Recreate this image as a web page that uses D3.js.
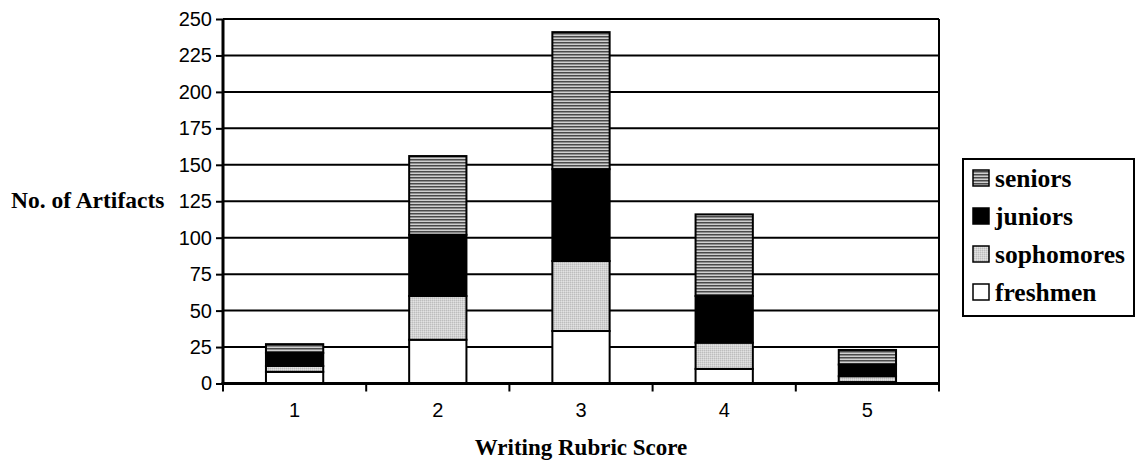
<!DOCTYPE html>
<html>
<head>
<meta charset="utf-8">
<script src="https://cdn.jsdelivr.net/npm/d3@7"></script>
<style>
  html, body { margin: 0; padding: 0; background: #fff; }
  svg { display: block; }
</style>
</head>
<body>
<svg id="chart" width="1135" height="460"></svg>
<script>
const categories = ["1", "2", "3", "4", "5"];
const seriesNames = ["freshmen", "sophomores", "juniors", "seniors"];
const freshmen   = [8, 30, 36, 10, 1];
const sophomores = [4, 30, 48, 18, 4];
const juniors    = [9, 42, 63, 32, 8];
const seniors    = [6, 54, 94, 56, 10];
const yTicks = [0, 25, 50, 75, 100, 125, 150, 175, 200, 225, 250];
const legendOrder = ["seniors", "juniors", "sophomores", "freshmen"];

const seriesValues = { freshmen, sophomores, juniors, seniors };
const rows = categories.map((c, i) => {
  const r = { cat: c };
  seriesNames.forEach(s => r[s] = seriesValues[s][i]);
  return r;
});

const svg = d3.select("#chart");
const defs = svg.append("defs");

// seniors: horizontal stripes
const pS = defs.append("pattern").attr("id", "pat-seniors")
  .attr("patternUnits", "userSpaceOnUse").attr("width", 6).attr("height", 3);
pS.append("rect").attr("width", 6).attr("height", 3).attr("fill", "#d0d0d0");
pS.append("rect").attr("y", 0).attr("width", 6).attr("height", 1.5).attr("fill", "#4a4a4a");

// sophomores: fine light gray texture
const pP = defs.append("pattern").attr("id", "pat-soph")
  .attr("patternUnits", "userSpaceOnUse").attr("width", 2).attr("height", 2);
pP.append("rect").attr("width", 2).attr("height", 2).attr("fill", "#d2d2d2");
pP.append("rect").attr("width", 1).attr("height", 1).attr("fill", "#bdbdbd");
pP.append("rect").attr("x", 1).attr("y", 1).attr("width", 1).attr("height", 1).attr("fill", "#e2e2e2");

const fills = {
  seniors: "url(#pat-seniors)",
  juniors: "#000",
  sophomores: "url(#pat-soph)",
  freshmen: "#fff"
};

const pLeft = 223, pRight = 939, pTop = 19, pBottom = 383.5;

const x = d3.scaleBand().domain(categories).range([pLeft, pRight])
  .paddingInner(0.6).paddingOuter(0.3);
const y = d3.scaleLinear().domain([0, 250]).range([pBottom, pTop]);

// gridlines
svg.append("g").selectAll("line").data(yTicks.filter(t => t > 0)).join("line")
  .attr("x1", pLeft).attr("x2", pRight)
  .attr("y1", d => y(d)).attr("y2", d => y(d))
  .attr("stroke", "#000").attr("stroke-width", 2);

// right border
svg.append("line").attr("x1", pRight).attr("x2", pRight).attr("y1", pTop).attr("y2", pBottom)
  .attr("stroke", "#000").attr("stroke-width", 2);

// stacked bars
const stack = d3.stack().keys(seriesNames)(rows);
svg.append("g").selectAll("g").data(stack).join("g")
  .attr("fill", d => fills[d.key])
  .selectAll("rect").data(d => d).join("rect")
  .attr("x", d => x(d.data.cat))
  .attr("width", x.bandwidth())
  .attr("y", d => y(d[1]))
  .attr("height", d => y(d[0]) - y(d[1]))
  .attr("stroke", "#000").attr("stroke-width", 2);

// y axis
const yAxis = d3.axisLeft(y).tickValues(yTicks).tickSize(7).tickPadding(4);
const gy = svg.append("g").attr("transform", `translate(${pLeft},0)`).call(yAxis);
gy.select(".domain").attr("stroke-width", 3).attr("d", `M0,${pTop}V${pBottom}`);
gy.selectAll(".tick line").attr("stroke-width", 2);
gy.selectAll(".tick text").attr("font-family", "'Liberation Sans', Arial, sans-serif")
  .attr("font-size", 20).attr("fill", "#000");

// x axis with ticks at category boundaries
svg.append("line").attr("x1", pLeft - 1.5).attr("x2", pRight + 1).attr("y1", pBottom).attr("y2", pBottom)
  .attr("stroke", "#000").attr("stroke-width", 3);
const boundaries = categories.map(c => x(c) - x.step() * x.paddingOuter()).concat([pRight]);
svg.append("g").selectAll("line").data(boundaries).join("line")
  .attr("x1", d => d).attr("x2", d => d)
  .attr("y1", pBottom).attr("y2", pBottom + 8)
  .attr("stroke", "#000").attr("stroke-width", 2);
svg.append("g").selectAll("text").data(categories).join("text")
  .attr("x", d => x(d) + x.bandwidth() / 2)
  .attr("y", 417)
  .attr("text-anchor", "middle")
  .attr("font-family", "'Liberation Sans', Arial, sans-serif")
  .attr("font-size", 20)
  .text(d => d);

// axis titles
svg.append("text").attr("x", (pLeft + pRight) / 2).attr("y", 455)
  .attr("text-anchor", "middle")
  .attr("font-family", "'Liberation Serif', 'Times New Roman', serif")
  .attr("font-weight", "bold").attr("font-size", 23)
  .text("Writing Rubric Score");
svg.append("text").attr("x", 11).attr("y", 208)
  .attr("font-family", "'Liberation Serif', 'Times New Roman', serif")
  .attr("font-weight", "bold").attr("font-size", 23.5)
  .text("No. of Artifacts");

// legend
const lg = svg.append("g");
lg.append("rect").attr("x", 963).attr("y", 159).attr("width", 171).attr("height", 157)
  .attr("fill", "#fff").attr("stroke", "#000").attr("stroke-width", 2);
const li = lg.selectAll("g.item").data(legendOrder).join("g").attr("class", "item")
  .attr("transform", (d, i) => `translate(0,${i * 38})`);
li.append("rect").attr("x", 973).attr("y", 170).attr("width", 16).attr("height", 16)
  .attr("fill", d => fills[d]).attr("stroke", "#000").attr("stroke-width", 1.5);
li.append("text").attr("x", 995).attr("y", 187)
  .attr("font-family", "'Liberation Serif', 'Times New Roman', serif")
  .attr("font-weight", "bold").attr("font-size", 25.5)
  .text(d => d);
</script>
</body>
</html>
